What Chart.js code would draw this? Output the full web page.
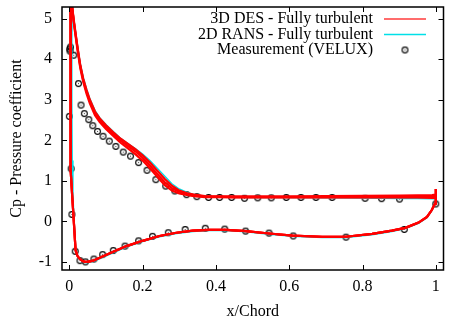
<!DOCTYPE html>
<html>
<head>
<meta charset="utf-8">
<script src="https://cdn.jsdelivr.net/npm/chart.js@4.4.1/dist/chart.umd.min.js"></script>
<style>
  html, body { margin: 0; padding: 0; background: #fff; }
  #wrap { width: 449px; height: 325px; }
</style>
</head>
<body>
<div id="wrap"><canvas id="c" width="449" height="325"></canvas></div>
<script>
// Cp distribution around the airfoil.

// --- axis ticks ---
const xTicks = [0, 0.2, 0.4, 0.6, 0.8, 1];
const xTickLabels = ["0", "0.2", "0.4", "0.6", "0.8", "1"];
const yTicks = [-1, 0, 1, 2, 3, 4, 5];
const yTickLabels = ["-1", "0", "1", "2", "3", "4", "5"];

// --- suction side (leading edge -> trailing edge) ---
const xUpper = [0.008, 0.012, 0.015, 0.02, 0.024, 0.03, 0.038, 0.047, 0.056, 0.07, 0.083, 0.1, 0.12, 0.14,
  0.16, 0.18, 0.2, 0.22, 0.24, 0.26, 0.28, 0.3, 0.32, 0.34, 0.37, 0.4, 0.45, 0.5, 0.6, 0.7, 0.8, 0.9, 0.95, 0.99, 1.0];
const desUpperA = [5.28, 4.98, 4.78, 4.45, 4.2, 3.85, 3.52, 3.24, 3.0, 2.71, 2.54, 2.37, 2.2, 2.04,
  1.91, 1.78, 1.63, 1.45, 1.25, 1.05, 0.88, 0.76, 0.70, 0.66, 0.625, 0.62, 0.615, 0.615, 0.62, 0.625, 0.63, 0.635, 0.64, 0.65, 0.66];
const desUpperB = [5.26, 4.92, 4.71, 4.38, 4.13, 3.78, 3.44, 3.15, 2.91, 2.62, 2.45, 2.28, 2.11, 1.94,
  1.80, 1.66, 1.50, 1.31, 1.10, 0.90, 0.76, 0.69, 0.65, 0.625, 0.60, 0.595, 0.59, 0.59, 0.59, 0.59, 0.59, 0.59, 0.59, 0.58, 0.58];
const desUpperMean = [5.27, 4.95, 4.75, 4.42, 4.17, 3.82, 3.48, 3.20, 2.96, 2.67, 2.50, 2.33, 2.16, 1.99,
  1.86, 1.73, 1.57, 1.38, 1.17, 0.97, 0.82, 0.73, 0.68, 0.645, 0.615, 0.61, 0.60, 0.60, 0.60, 0.60, 0.60, 0.60, 0.60, 0.60, 0.60];
const ransUpper = [5.3, 5.02, 4.82, 4.5, 4.25, 3.9, 3.56, 3.28, 3.03, 2.74, 2.56, 2.39, 2.22, 2.05,
  1.92, 1.80, 1.66, 1.50, 1.31, 1.12, 0.93, 0.80, 0.72, 0.66, 0.62, 0.60, 0.59, 0.585, 0.585, 0.58, 0.575, 0.565, 0.56, 0.555, 0.56];

// --- pressure side (leading edge -> trailing edge) ---
const xLowerDes = [0.006, 0.004, 0.003, 0.003, 0.004, 0.008, 0.012, 0.017, 0.022, 0.029, 0.036, 0.043, 0.05, 0.065,
  0.08, 0.1, 0.12, 0.156, 0.2, 0.246, 0.292, 0.337, 0.382, 0.428, 0.482, 0.545, 0.609, 0.69, 0.755, 0.826, 0.88,
  0.917, 0.953, 0.976, 0.989, 0.998, 1.0];
const desLower = [5.9, 5.3, 4.0, 2.5, 1.3, 0.6, 0.03, -0.71, -0.85, -0.93, -0.98, -1.0, -1.0, -0.97,
  -0.91, -0.83, -0.75, -0.61, -0.48, -0.36, -0.28, -0.23, -0.21, -0.21, -0.24, -0.30, -0.35, -0.38, -0.38, -0.31, -0.23,
  -0.16, -0.03, 0.11, 0.28, 0.44, 0.80];
const xLowerRans = [0.009, 0.008, 0.007, 0.007, 0.008, 0.01, 0.013, 0.018, 0.023, 0.03, 0.037, 0.044, 0.051, 0.066,
  0.081, 0.101, 0.121, 0.157, 0.2, 0.246, 0.292, 0.337, 0.382, 0.428, 0.482, 0.545, 0.609, 0.69, 0.755, 0.826, 0.88,
  0.917, 0.953, 0.976, 0.989, 0.998, 1.0];
const ransLower = [5.9, 5.4, 4.5, 3.0, 1.5, 0.65, 0.05, -0.72, -0.87, -0.95, -1.0, -1.02, -1.02, -0.99,
  -0.93, -0.85, -0.77, -0.63, -0.50, -0.38, -0.30, -0.25, -0.23, -0.23, -0.26, -0.32, -0.37, -0.40, -0.40, -0.33, -0.25,
  -0.18, -0.05, 0.09, 0.26, 0.43, 0.72];

// --- measurement (VELUX) ---
const xMeas = [0.001, 0.003, 0.002, 0.012, 0.025, 0.0, 0.032, 0.041, 0.053, 0.064, 0.077, 0.092, 0.109, 0.127,
  0.147, 0.167, 0.189, 0.212, 0.236, 0.263, 0.288, 0.320, 0.348, 0.380, 0.410, 0.443, 0.478, 0.514, 0.551,
  0.592, 0.632, 0.673, 0.717, 0.807, 0.852, 0.901, 1.0,
  0.005, 0.007, 0.016, 0.029, 0.044, 0.067, 0.091, 0.120, 0.152, 0.189, 0.227, 0.270, 0.316, 0.371, 0.424,
  0.481, 0.545, 0.611, 0.755, 0.914];
const cpMeas = [4.25, 4.3, 4.2, 4.1, 3.40, 2.59, 2.87, 2.66, 2.51, 2.36, 2.22, 2.10, 1.98, 1.85,
  1.71, 1.61, 1.45, 1.26, 1.03, 0.87, 0.75, 0.66, 0.61, 0.59, 0.59, 0.59, 0.57, 0.58, 0.58,
  0.59, 0.59, 0.59, 0.59, 0.57, 0.56, 0.55, 0.43,
  1.30, 0.17, -0.74, -0.97, -1.0, -0.93, -0.82, -0.72, -0.61, -0.48, -0.37, -0.28, -0.20, -0.17, -0.19,
  -0.24, -0.29, -0.36, -0.39, -0.20];

const RED = "#ff0000", CYAN = "#00e0e8", SERIF = "'Liberation Serif', 'DejaVu Serif', serif";

// closed loop: trailing edge -> suction side -> leading edge -> pressure side -> trailing edge
function loop(xu, yu, xl, yl) {
  const pts = [];
  for (let i = xu.length - 1; i >= 0; i--) pts.push({ x: xu[i], y: yu[i] });
  for (let i = 0; i < xl.length; i++) pts.push({ x: xl[i], y: yl[i] });
  return pts;
}

// gnuplot-like "circle with dot" marker
const marker = document.createElement("canvas");
marker.width = 9; marker.height = 9;
(function () {
  const g = marker.getContext("2d");
  g.strokeStyle = "#000"; g.lineWidth = 1.1;
  g.beginPath(); g.arc(4.5, 4.5, 2.9, 0, Math.PI * 2); g.stroke();
  g.fillStyle = "#444"; g.fillRect(4, 4, 1, 1);
})();

const line = (data, color, width) => ({
  data, showLine: true, borderColor: color, borderWidth: width, pointRadius: 0,
  tension: 0, fill: false
});

const noPad = (s) => { s.paddingTop = 0; s.paddingBottom = 0; s.paddingLeft = 0; s.paddingRight = 0; };

// frame, inward ticks on all four sides, legend
const framePlugin = {
  id: "frame",
  afterDatasetsDraw(chart) {
    const { ctx, chartArea: a, scales: { x, y } } = chart;
    ctx.save();
    ctx.strokeStyle = "#000"; ctx.lineWidth = 1.5;
    ctx.strokeRect(a.left, a.top, a.right - a.left, a.bottom - a.top);
    ctx.lineWidth = 1;
    ctx.beginPath();
    xTicks.forEach((v) => {
      const px = Math.round(x.getPixelForValue(v)) + 0.5;
      ctx.moveTo(px, a.bottom); ctx.lineTo(px, a.bottom - 5);
      ctx.moveTo(px, a.top); ctx.lineTo(px, a.top + 5);
    });
    yTicks.forEach((v) => {
      const py = Math.round(y.getPixelForValue(v)) + 0.5;
      ctx.moveTo(a.left, py); ctx.lineTo(a.left + 5, py);
      ctx.moveTo(a.right, py); ctx.lineTo(a.right - 5, py);
    });
    ctx.stroke();

    // legend, gnuplot style: right-aligned text, sample on the right
    const items = [
      { text: "3D DES - Fully turbulent", color: "#ff3b3b" },
      { text: "2D RANS - Fully turbulent", color: CYAN },
      { text: "Measurement (VELUX)", point: true }
    ];
    ctx.font = "16px " + SERIF;
    ctx.fillStyle = "#000"; ctx.textAlign = "right"; ctx.textBaseline = "middle";
    items.forEach((it, i) => {
      const ty = 19 + i * 15.5;
      ctx.fillText(it.text, 373, ty);
      if (it.point) {
        ctx.drawImage(marker, 405 - 4.5, ty - 4.5);
      } else {
        ctx.strokeStyle = it.color; ctx.lineWidth = 1.5;
        ctx.beginPath(); ctx.moveTo(384, ty); ctx.lineTo(426, ty); ctx.stroke();
      }
    });
    ctx.restore();
  }
};

new Chart(document.getElementById("c"), {
  type: "scatter",
  data: {
    datasets: [
      line(loop(xUpper, desUpperA, xLowerDes, desLower), RED, 2.2),
      line(loop(xUpper, desUpperB, xLowerDes, desLower), RED, 2.2),
      line(loop(xUpper, desUpperMean, xLowerDes, desLower), RED, 2.2),
      line(loop(xUpper, ransUpper, xLowerRans, ransLower), CYAN, 1.3),
      {
        data: xMeas.map((v, i) => ({ x: v, y: cpMeas[i] })),
        pointStyle: marker, pointRadius: 4.5, showLine: false
      }
    ]
  },
  options: {
    responsive: false, animation: false, devicePixelRatio: 1,
    layout: { padding: { top: 7, right: 4, left: 0, bottom: 0 } },
    plugins: { legend: { display: false }, tooltip: { enabled: false } },
    scales: {
      x: {
        type: "linear", min: -0.02, max: 1.021,
        grid: { display: false, drawTicks: false }, border: { display: false },
        afterBuildTicks: (s) => { s.ticks = xTicks.map((v) => ({ value: v })); },
        afterFit: (s) => { s.height = 55; noPad(s); },
        ticks: {
          color: "#000", font: { family: SERIF, size: 16 }, padding: 7, maxRotation: 0,
          callback: (v) => xTickLabels[xTicks.indexOf(v)]
        },
        title: { display: true, text: "x/Chord", color: "#000", font: { family: SERIF, size: 16 }, padding: { bottom: 4 } }
      },
      y: {
        type: "linear", min: -1.2, max: 5.29,
        grid: { display: false, drawTicks: false }, border: { display: false },
        afterBuildTicks: (s) => { s.ticks = yTicks.map((v) => ({ value: v })); },
        afterFit: (s) => { s.width = 62; noPad(s); },
        ticks: {
          color: "#000", font: { family: SERIF, size: 16 }, padding: 10,
          callback: (v) => yTickLabels[yTicks.indexOf(v)]
        },
        title: { display: true, text: "Cp - Pressure coefficient", color: "#000", font: { family: SERIF, size: 16 }, padding: { top: 7 } }
      }
    }
  },
  plugins: [framePlugin]
});
</script>
</body>
</html>
